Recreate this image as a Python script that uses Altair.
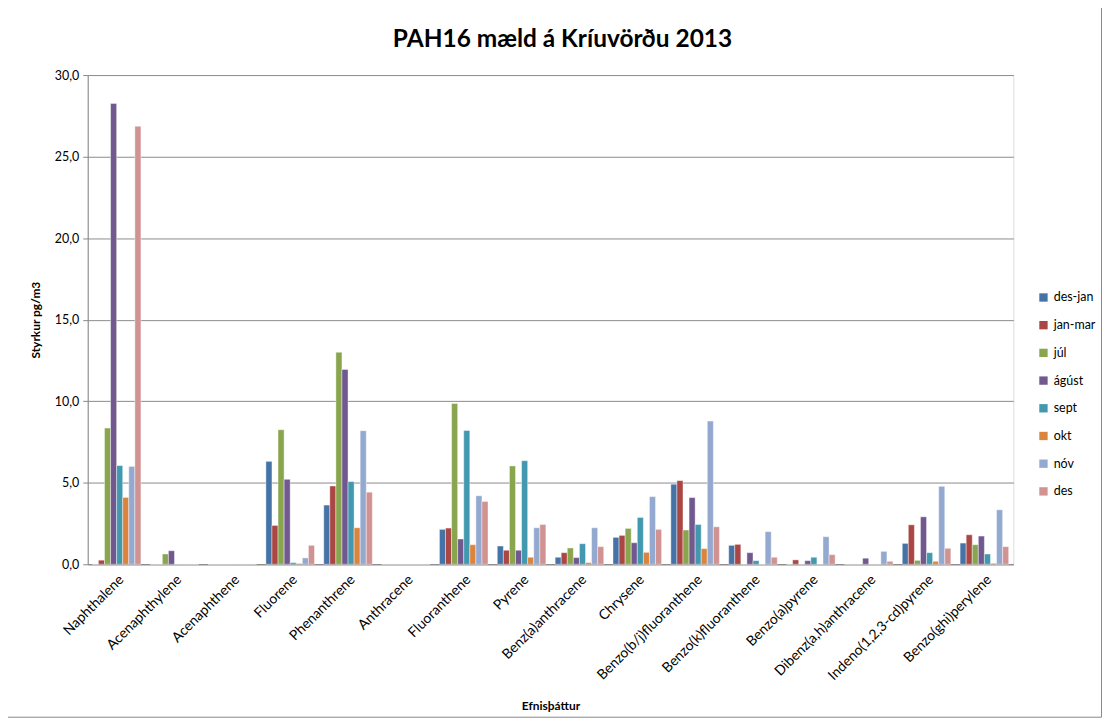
import altair as alt
import pandas as pd

compounds = ["Naphthalene", "Acenaphthylene", "Acenaphthene", "Fluorene", "Phenanthrene",
             "Anthracene", "Fluoranthene", "Pyrene", "Benz(a)anthracene", "Chrysene",
             "Benzo(b/j)fluoranthene", "Benzo(k)fluoranthene", "Benzo(a)pyrene",
             "Dibenz(a,h)anthracene", "Indeno(1,2,3-cd)pyrene", "Benzo(ghi)perylene"]

series_names = ["des-jan", "jan-mar", "júl", "ágúst", "sept", "okt", "nóv", "des"]
colors = ["#4572A7", "#AA4643", "#89A54E", "#71588F", "#4198AF", "#DB843D", "#93A9CF", "#D19392"]

des_jan = [0, 0, 0, 6.31, 3.63, 0, 2.14, 1.12, 0.43, 1.65, 4.91, 1.16, 0, 0, 1.28, 1.30]
jan_mar = [0.25, 0, 0, 2.38, 4.80, 0, 2.22, 0.86, 0.71, 1.77, 5.13, 1.22, 0.27, 0, 2.42, 1.81]
jul = [8.35, 0.63, 0, 8.25, 13.0, 0, 9.86, 6.03, 1.00, 2.20, 2.10, 0, 0, 0, 0.24, 1.20]
agust = [28.26, 0.83, 0, 5.21, 11.95, 0, 1.55, 0.86, 0.41, 1.32, 4.09, 0.71, 0.22, 0.37, 2.91, 1.73]
sept = [6.05, 0, 0, 0.10, 5.07, 0, 8.20, 6.35, 1.26, 2.87, 2.44, 0.22, 0.43, 0, 0.71, 0.63]
okt = [4.10, 0, 0, 0.05, 2.24, 0, 1.20, 0.43, 0.10, 0.73, 0.96, 0, 0, 0, 0.18, 0.06]
nov = [6.00, 0, 0, 0.39, 8.19, 0, 4.20, 2.24, 2.24, 4.15, 8.78, 2.00, 1.69, 0.79, 4.78, 3.34]
des = [26.86, 0, 0, 1.16, 4.42, 0, 3.85, 2.44, 1.08, 2.14, 2.30, 0.43, 0.59, 0.18, 0.98, 1.08]

all_series = [des_jan, jan_mar, jul, agust, sept, okt, nov, des]

rows = []
for name, vals in zip(series_names, all_series):
    for c, v in zip(compounds, vals):
        rows.append({"Efnisþáttur": c, "Tímabil": name, "Styrkur": v})
df = pd.DataFrame(rows)

FONT = "Lato"
W, H = 929, 491

bars = alt.Chart(df).mark_bar(stroke="white", strokeWidth=0.6, strokeOpacity=0.7).encode(
    x=alt.X("Efnisþáttur:N", sort=compounds,
            scale=alt.Scale(paddingInner=0.16, paddingOuter=0.08),
            axis=alt.Axis(title="Efnisþáttur", labelAngle=-45, labelAlign="right",
                          labelBaseline="top", ticks=False, domainColor="#888888",
                          titleFontWeight="bold", titleFontSize=12, titlePadding=18,
                          labelFontSize=14, labelPadding=8, labelFont=FONT, titleFont=FONT,
                          labelColor="#000000", titleColor="#000000", labelLimit=300)),
    xOffset=alt.XOffset("Tímabil:N", sort=series_names),
    y=alt.Y("Styrkur:Q",
            scale=alt.Scale(domain=[0, 30], nice=False),
            axis=alt.Axis(title="Styrkur pg/m3", values=[0, 5, 10, 15, 20, 25, 30],
                          labelExpr="replace(format(datum.value, '.1f'), '.', ',')",
                          grid=True, gridColor="#8c8c8c", gridWidth=1,
                          domainColor="#888888", tickColor="#888888", tickSize=5,
                          titleFontWeight="bold", titleFontSize=12, titlePadding=12,
                          labelFontSize=12.5, labelPadding=4, labelFont=FONT, titleFont=FONT,
                          labelColor="#000000", titleColor="#000000")),
    color=alt.Color("Tímabil:N", sort=series_names,
                    scale=alt.Scale(domain=series_names, range=colors),
                    legend=alt.Legend(title=None, orient="none", legendX=953, legendY=217,
                                      symbolType="square", symbolSize=70,
                                      symbolStrokeWidth=0, labelFontSize=12.5,
                                      labelFont=FONT, labelColor="#000000",
                                      rowPadding=14.8, labelOffset=4)),
)

border = alt.Chart(pd.DataFrame({"a": [0]})).mark_rect(
    fill=None, stroke="#8a8a8a", strokeWidth=1
).encode(
    x=alt.value(-87.5), x2=alt.value(1017.5), y=alt.value(-73.5), y2=alt.value(644.5)
)

chart = alt.layer(border, bars).properties(
    width=W, height=H,
    title=alt.TitleParams("PAH16 mæld á Kríuvörðu 2013", fontSize=24.5, fontWeight="bold",
                          font=FONT, color="#000000", anchor="middle", offset=18,
                          dy=69, dx=12),
    autosize=alt.AutoSizeParams(type="none"),
    padding={"left": 80, "top": 66, "right": 89, "bottom": 153},
).configure_view(stroke=None).configure(background="white")

chart.save("out.html", embed_options={"renderer": "svg", "actions": False})
